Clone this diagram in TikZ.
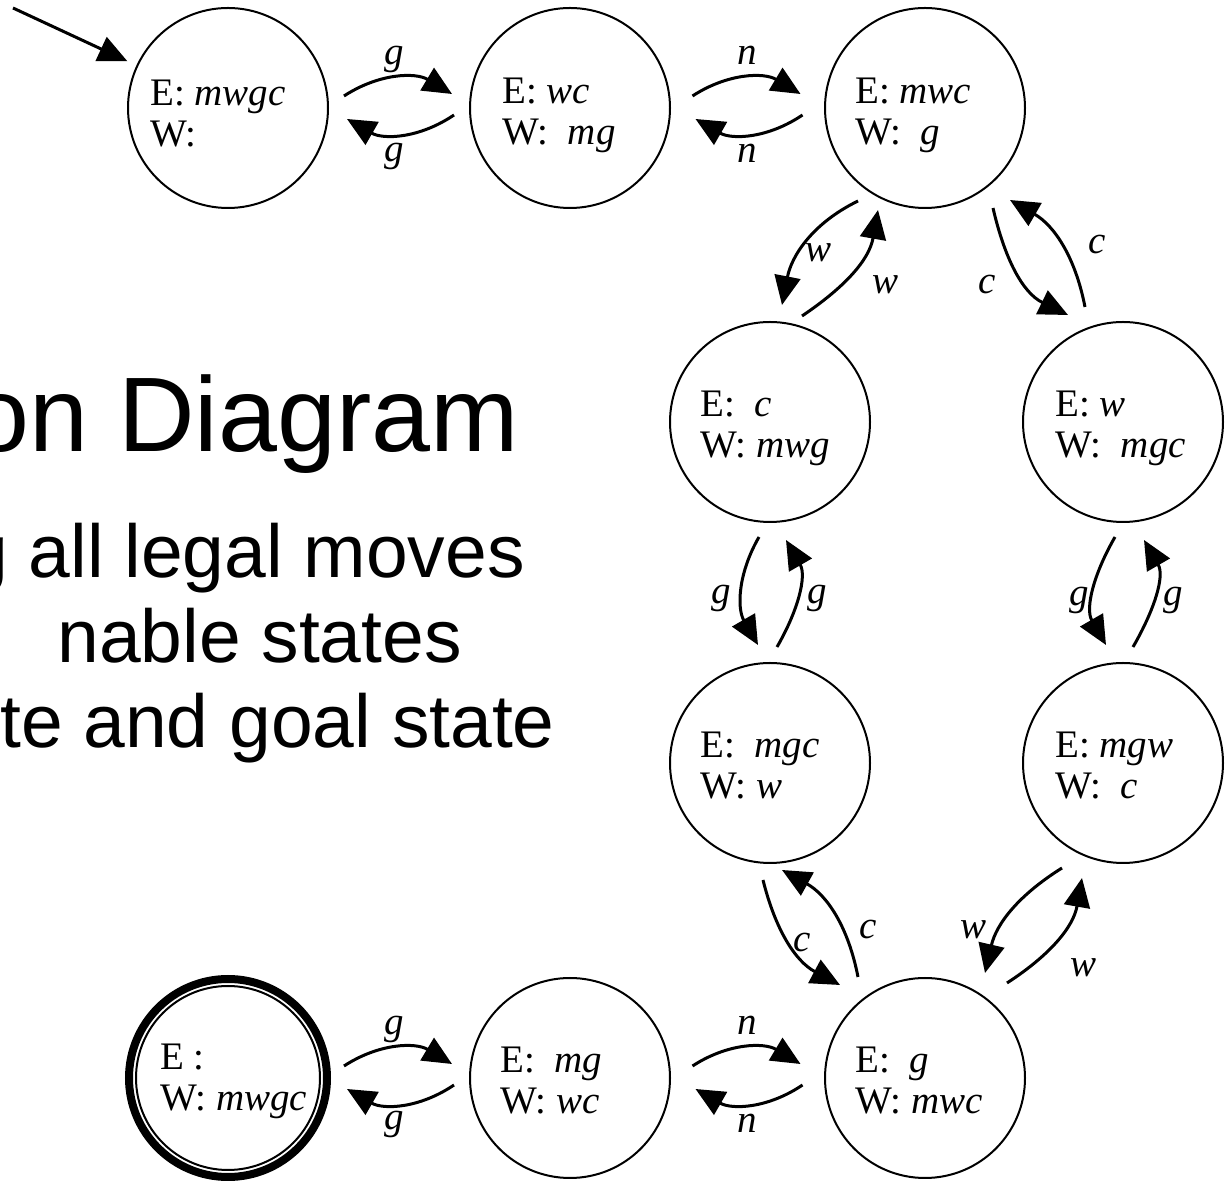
\documentclass[tikz,border=0pt]{standalone}
\usepackage{fontspec}
\setmainfont{Liberation Serif}
\newfontfamily\arialfont{Liberation Sans}
\usetikzlibrary{arrows.meta,calc}
% name, position, E text, W text, (dx,dy) of first baseline
\newcommand\mkstate[5]{%
  \node[state] (#1) at (#2) {};
  \node[txt,anchor=base west] (#1e) at ($(#1.center)+(#5)$) {#3};
  \node[txt,anchor=base west] (#1w) at ($(#1e.base west)+(0,-41)$) {#4};
}
\begin{document}
\begin{tikzpicture}[x=1pt,y=1pt,
  state/.style={circle,draw,line width=2pt,minimum size=200pt,inner sep=0pt},
  txt/.style={font=\fontsize{39}{44}\selectfont,inner sep=0pt},
  lab/.style={font=\fontsize{39}{44}\selectfont\itshape,inner sep=0pt},
  arr/.style={line width=3pt,-{Triangle[length=29pt,width=26pt]}},
  big/.style={font=\arialfont\fontsize{106}{120}\selectfont,inner sep=0pt,anchor=base east},
  mid/.style={font=\arialfont\fontsize{75}{85}\selectfont,inner sep=0pt,anchor=base east}]
\useasboundingbox (0,0) rectangle (1227,1181);
\clip (0,0) rectangle (1227,1181);

% left slide text (cut by the left edge)
\node[big] (title) at (519,729) {on Diagram};
\node[mid] (b1) at (525,603) {g all legal moves};
\node[mid] (b2) at (462,518) {nable states};
\node[mid] (b3) at (555,433) {te and goal state};

% states
\mkstate{N1}{228,1073}{E: \textit{mwgc}}{W:}{-78,2}
\mkstate{N2}{570,1073}{E: \textit{wc}}{W:\ \ \textit{mg}}{-68,4}
\mkstate{N3}{925,1073}{E: \textit{mwc}}{W:\ \ \textit{g}}{-70,4}
\mkstate{N4}{770,759}{E:\ \ \textit{c}}{W: \textit{mwg}}{-70,5}
\mkstate{N5}{1123,759}{E: \textit{w}}{W:\ \ \textit{mgc}}{-68,5}
\mkstate{N6}{770,418}{E:\ \ \textit{mgc}}{W: \textit{w}}{-70,5}
\mkstate{N7}{1123,418}{E: \textit{mgw}}{W:\ \ \textit{c}}{-68,5}
\mkstate{N8}{925,103}{E:\ \ \textit{g}}{W: \textit{mwc}}{-70,5}
\mkstate{N9}{570,103}{E:\ \ \textit{mg}}{W: \textit{wc}}{-70,5}
\node[state,minimum size=184pt] (N10) at (228,103) {};
\draw[line width=8pt] (N10.center) circle[radius=99pt];
\node[txt,anchor=base west] (N10e) at ($(N10.center)+(-68,8)$) {E :};
\node[txt,anchor=base west] (N10w) at ($(N10e.base west)+(0,-41)$) {W: \textit{mwgc}};

% initial arrow
\coordinate (init) at (13,1173);
\draw[arr,shorten >=10pt] (init) -- (N1);

% horizontal pairs
\draw[arr] ($(N1)!.5!(N2)+(-55,12)$) to[bend left=32] ($(N1)!.5!(N2)+(53,14)$);
\draw[arr] ($(N1)!.5!(N2)+(55,-7)$) to[bend left=32] ($(N1)!.5!(N2)+(-52,-11)$);
\node[lab] (l12a) at ($(N1)!.5!(N2)+(-5,49)$) {g};
\node[lab] (l12b) at ($(N1)!.5!(N2)+(-5,-48)$) {g};

\draw[arr] ($(N2)!.5!(N3)+(-55,12)$) to[bend left=32] ($(N2)!.5!(N3)+(53,14)$);
\draw[arr] ($(N2)!.5!(N3)+(55,-7)$) to[bend left=32] ($(N2)!.5!(N3)+(-52,-11)$);
\node[lab] (l23a) at ($(N2)!.5!(N3)+(0,53)$) {n};
\node[lab] (l23b) at ($(N2)!.5!(N3)+(0,-45)$) {n};

\draw[arr] ($(N10)!.5!(N9)+(-55,12)$) to[bend left=32] ($(N10)!.5!(N9)+(53,14)$);
\draw[arr] ($(N10)!.5!(N9)+(55,-7)$) to[bend left=32] ($(N10)!.5!(N9)+(-52,-11)$);
\node[lab] (l09a) at ($(N10)!.5!(N9)+(-5,49)$) {g};
\node[lab] (l09b) at ($(N10)!.5!(N9)+(-5,-46)$) {g};

\draw[arr] ($(N9)!.5!(N8)+(-55,12)$) to[bend left=32] ($(N9)!.5!(N8)+(53,14)$);
\draw[arr] ($(N9)!.5!(N8)+(55,-7)$) to[bend left=32] ($(N9)!.5!(N8)+(-52,-11)$);
\node[lab] (l98a) at ($(N9)!.5!(N8)+(0,53)$) {n};
\node[lab] (l98b) at ($(N9)!.5!(N8)+(0,-45)$) {n};

% N3 - N4 (w)
\draw[arr] ($(N3)+(-67,-93)$) to[out=206,in=79] ($(N4)+(12,117)$);
\draw[arr] ($(N4)+(32,106)$) to[out=34,in=260] ($(N3)+(-47,-102)$);
\node[lab] (l34a) at (818,928) {w};
\node[lab] (l34b) at (885,896) {w};

% N3 - N5 (c)
\draw[arr] ($(N3)+(68,-100)$) to[out=283,in=154] ($(N5)+(-55,107)$);
\draw[arr] ($(N5)+(-38,115)$) to[out=101,in=330] ($(N3)+(85,-92)$);
\node[lab] (l35a) at (987,896) {c};
\node[lab] (l35b) at (1097,936) {c};

% N4 - N6 (g)
\draw[arr] ($(N4)+(-11,-115)$) to[out=240,in=120] ($(N6)+(-12,118)$);
\draw[arr] ($(N6)+(7,116)$) to[out=60,in=300] ($(N4)+(16,-118)$);
\node[lab] (l46a) at (721,583) {g};
\node[lab] (l46b) at (817,583) {g};

% N5 - N7 (g)
\draw[arr] ($(N5)+(-8,-115)$) to[out=240,in=120] ($(N7)+(-17,118)$);
\draw[arr] ($(N7)+(10,116)$) to[out=60,in=300] ($(N5)+(21,-118)$);
\node[lab] (l57a) at (1079,581) {g};
\node[lab] (l57b) at (1173,581) {g};

% N6 - N8 (c)
\draw[arr] ($(N6)+(-7,-117)$) to[out=284,in=152] ($(N8)+(-85,93)$);
\draw[arr] ($(N8)+(-67,101)$) to[out=101,in=331] ($(N6)+(12,-107)$);
\node[lab] (l68a) at (802,238) {c};
\node[lab] (l68b) at (868,251) {c};

% N7 - N8 (w)
\draw[arr] ($(N7)+(-61,-105)$) to[out=212,in=77] ($(N8)+(60,105)$);
\draw[arr] ($(N8)+(82,95)$) to[out=33,in=260] ($(N7)+(-41,-115)$);
\node[lab] (l78a) at (973,251) {w};
\node[lab] (l78b) at (1083,213) {w};
\end{tikzpicture}
\end{document}
